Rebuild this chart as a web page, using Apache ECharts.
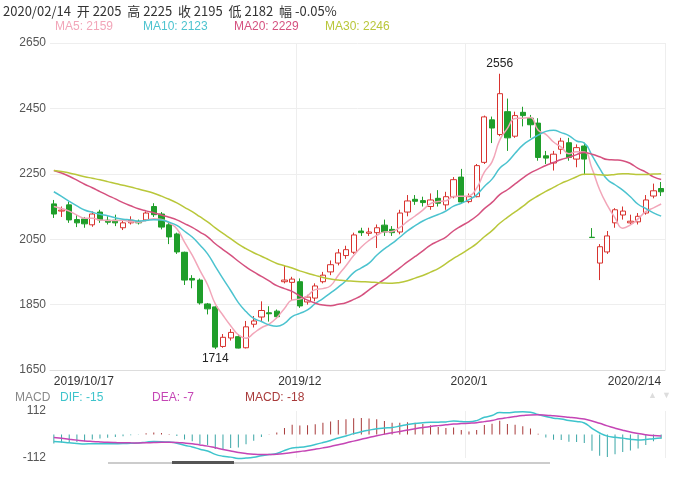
<!DOCTYPE html>
<html><head><meta charset="utf-8">
<script src="https://cdn.jsdelivr.net/npm/echarts@6/dist/echarts.min.js"></script>
<style>html,body{margin:0;padding:0;background:#fff}#c{width:686px;height:480px}</style>
</head><body><div id="c"></div>
<script>
// OHLC: [open, close, low, high]
const candles = [
[2158,2127,2115,2170],[2136,2139,2118,2150],[2155,2109,2100,2165],[2110,2100,2087,2124],[2112,2097,2085,2118],
[2094,2127,2088,2135],[2133,2109,2100,2140],[2108,2102,2095,2120],[2108,2100,2090,2125],[2085,2100,2078,2108],
[2100,2108,2095,2120],[2105,2100,2095,2110],[2109,2130,2105,2135],[2150,2125,2118,2160],[2127,2087,2080,2133],
[2094,2057,2035,2100],[2066,2011,2005,2070],[2010,1925,1910,2012],[1930,1925,1900,1940],[1925,1855,1850,1930],
[1852,1837,1820,1855],[1843,1720,1714,1845],[1722,1750,1718,1760],[1748,1765,1740,1775],[1752,1717,1716,1760],
[1718,1782,1716,1800],[1790,1800,1780,1815],[1812,1832,1800,1860],[1825,1822,1798,1845],[1830,1813,1808,1835],
[1920,1925,1915,1970],[1918,1928,1864,1935],[1920,1846,1840,1930],[1858,1873,1850,1880],[1870,1907,1860,1915],
[1920,1940,1915,1950],[1950,1972,1940,1985],[1977,2008,1970,2020],[2000,2018,1990,2030],[2010,2063,2005,2070],
[2075,2070,2060,2085],[2068,2072,2060,2085],[2070,2085,2023,2095],[2093,2072,2060,2110],[2080,2070,2060,2090],
[2072,2130,2065,2140],[2133,2167,2120,2185],[2172,2166,2155,2185],[2168,2162,2150,2180],[2150,2170,2140,2190],
[2175,2160,2150,2200],[2155,2180,2140,2195],[2180,2232,2175,2240],[2240,2164,2160,2265],[2165,2180,2160,2190],
[2180,2275,2178,2280],[2285,2424,2280,2428],[2415,2390,2344,2425],[2370,2495,2365,2556],[2440,2360,2320,2480],
[2365,2428,2360,2440],[2438,2428,2395,2455],[2420,2400,2360,2430],[2405,2300,2290,2420],[2305,2298,2280,2320],
[2283,2310,2260,2320],[2325,2350,2310,2360],[2345,2300,2290,2360],[2295,2330,2270,2340],[2335,2295,2246,2345],
[2056,2055,2055,2084],[1977,2027,1925,2035],[2011,2060,2005,2075],[2100,2140,2085,2145],[2124,2136,2110,2150],
[2100,2105,2095,2125],[2103,2120,2095,2130],[2130,2170,2125,2185],[2182,2198,2175,2220],[2205,2195,2182,2225]
];
// estimated closes before the visible window (for the moving averages at the left edge)
const priorCloses = [2230,2245,2260,2275,2270,2255,2265,2280,2260,2260,
 2290,2310,2335,2350,2345,2340,2330,2320,2325,2305,
 2280,2260,2240,2225,2195,2170,2150,2160,2144];
const holidays = ['2020/1/1','2020/1/24','2020/1/27','2020/1/28','2020/1/29','2020/1/30','2020/1/31'];
const tickLabels = {0:'2019/10/17',32:'2019/12',54:'2020/1',79:'2020/2/14'};
const headerText = '2020/02/14  开 2205  高 2225  收 2195  低 2182  幅 -0.05%';
const maLegend = [['MA5: 2159','#f2a6b9'],['MA10: 2123','#4cc3cf'],['MA20: 2229','#d5517f'],['MA30: 2246','#b9c73a']];
const macdLegend = [['MACD','#888'],['DIF: -15','#3ec4cc'],['DEA: -7','#c545b5'],['MACD: -18','#a83a3a']];

const dates = [];
{ let d = new Date(2019,9,17);
  while (dates.length < candles.length) {
    const s = d.getFullYear()+'/'+(d.getMonth()+1)+'/'+d.getDate();
    if (d.getDay()!==0 && d.getDay()!==6 && holidays.indexOf(s)<0) dates.push(s);
    d.setDate(d.getDate()+1);
  } }
const closes = priorCloses.concat(candles.map(c=>c[1]));
const P = priorCloses.length;
function ma(n){ const r=[]; for(let i=P;i<closes.length;i++){let s=0;for(let k=i-n+1;k<=i;k++)s+=closes[k];r.push(+(s/n).toFixed(1));} return r; }
function ema(arr,n){const a=2/(n+1);const r=[arr[0]];for(let i=1;i<arr.length;i++)r.push(a*arr[i]+(1-a)*r[i-1]);return r;}
const e12=ema(closes,12), e26=ema(closes,26);
const difAll=e12.map((v,i)=>v-e26[i]); const deaAll=ema(difAll,9);
const dif=difAll.slice(P).map(v=>+v.toFixed(1)), dea=deaAll.slice(P).map(v=>+v.toFixed(1));
const hist=dif.map((v,i)=>+(2*(v-dea[i])).toFixed(1));
const hmax=Math.max(...hist.map(Math.abs));

const font='"Liberation Sans", Arial, sans-serif';
const chart=echarts.init(document.getElementById('c'));
const g=[];
g.push({type:'text',left:3,top:5,style:{text:headerText,font:'13px "Noto Sans CJK SC", "Liberation Sans"',fill:'#333'}});
[55,143,234,325].forEach((x,i)=>g.push({type:'text',left:x,top:21,style:{text:maLegend[i][0],font:'12px '+font,fill:maLegend[i][1]}}));
[15,60,152,245].forEach((x,i)=>g.push({type:'text',left:x,top:392,style:{text:macdLegend[i][0],font:'12px '+font,fill:macdLegend[i][1]}}));
g.push({type:'text',left:648,top:391,style:{text:'▲',font:'9px '+font,fill:'#ddd'}});
g.push({type:'text',left:662,top:391,style:{text:'▼',font:'9px '+font,fill:'#ddd'}});
g.push({type:'rect',shape:{x:108,y:495-33,width:442,height:2},style:{fill:'#ccc'}});
g.push({type:'rect',shape:{x:172,y:461,width:62,height:3},style:{fill:'#555'}});

const maColors=['#f2a6b9','#4cc3cf','#d5517f','#b9c73a'];
chart.setOption({
 animation:false,
 textStyle:{fontFamily:font},
 graphic:g,
 grid:[{left:50,right:21,top:43,height:327},{left:50,right:21,top:411,height:47}],
 xAxis:[
  {type:'category',data:dates,gridIndex:0,axisLine:{lineStyle:{color:'#ddd'}},axisTick:{show:false},
   axisLabel:{interval:(i)=>tickLabels[i]!==undefined,formatter:(v,i)=>tickLabels[i]||'',color:'#333',fontSize:12,margin:6,alignMinLabel:'left',alignMaxLabel:'right'},
   splitLine:{show:true,interval:(i)=>i===32||i===54,lineStyle:{color:'#eee'}}},
  {type:'category',data:dates,gridIndex:1,axisLine:{show:false},axisTick:{show:false},axisLabel:{show:false},
   splitLine:{show:true,interval:(i)=>i===32||i===54,lineStyle:{color:'#eee'}}}
 ],
 yAxis:[
  {type:'value',gridIndex:0,min:1650,max:2650,interval:200,axisLine:{show:false},axisTick:{show:false},
   axisLabel:{color:'#555',fontSize:12,margin:4,formatter:v=>String(v)},splitLine:{lineStyle:{color:'#eee'}}},
  {type:'value',gridIndex:1,min:-112,max:112,interval:112,axisLine:{show:false},axisTick:{show:false},
   axisLabel:{color:'#555',fontSize:12,margin:4,formatter:v=>v===0?'':String(v)},splitLine:{show:false}},
  {type:'value',gridIndex:1,min:-hmax*1.05,max:hmax*1.05,show:false,splitLine:{show:false}}
 ],
 series:[
  {type:'candlestick',data:candles,xAxisIndex:0,yAxisIndex:0,barWidth:'75%',
   itemStyle:{color:'#fff',color0:'#1f9e2a',borderColor:'#d8332f',borderColor0:'#1f9e2a',borderWidth:1},
   markPoint:{symbol:'circle',symbolSize:0,label:{color:'#222',fontSize:12},
     data:[{type:'max',valueDim:'highest',label:{position:'top',distance:4}},{type:'min',valueDim:'lowest',label:{position:'bottom',distance:4}}]}},
  ...[5,10,20,30].map((n,i)=>({type:'line',data:ma(n),xAxisIndex:0,yAxisIndex:0,showSymbol:false,smooth:true,
     lineStyle:{color:maColors[i],width:1.5},z:3})),
  {type:'bar',data:hist,xAxisIndex:1,yAxisIndex:2,barWidth:1,
   itemStyle:{color:p=>p.value>=0?'#a83a3a':'#3aa6a6'}},
  {type:'line',data:dif,xAxisIndex:1,yAxisIndex:1,showSymbol:false,smooth:true,clip:false,lineStyle:{color:'#3ec4cc',width:1.5}},
  {type:'line',data:dea,xAxisIndex:1,yAxisIndex:1,showSymbol:false,smooth:true,clip:false,lineStyle:{color:'#c545b5',width:1.5}}
 ]
});
</script></body></html>
